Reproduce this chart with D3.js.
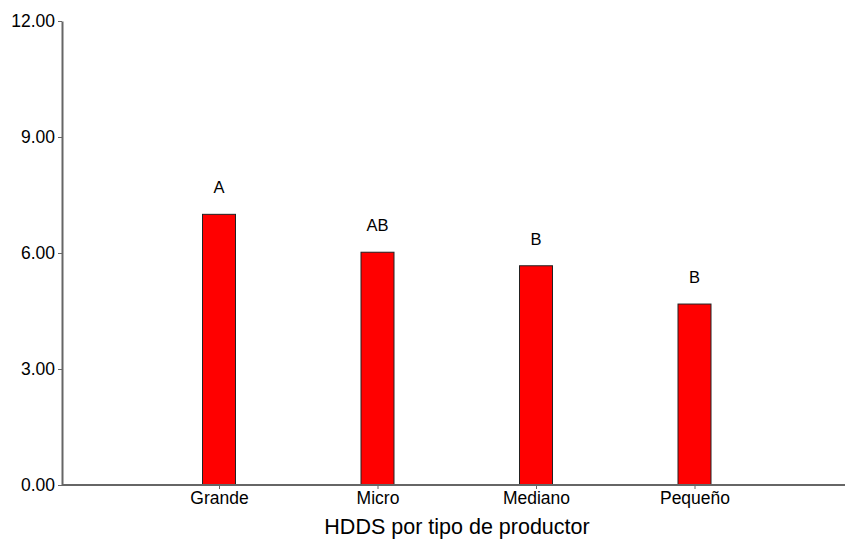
<!DOCTYPE html>
<html><head><meta charset="utf-8">
<script src="https://cdn.jsdelivr.net/npm/d3@7"></script>
<style>body{margin:0;background:#fff}svg{display:block}text{font-family:"Liberation Sans",Arial,sans-serif;fill:#000}</style>
</head><body>
<script>
const categories = ["Grande","Micro","Mediano","Pequeño"];
const values = [7.00, 6.02, 5.67, 4.68];
const letters = ["A","AB","B","B"];
const yTicks = [0,3,6,9,12];
const xTitle = "HDDS por tipo de productor";

const W=846,H=539;
const svg=d3.select("body").append("svg").attr("width",W).attr("height",H);
const y=d3.scaleLinear().domain([0,12]).range([485,21]);
const x=d3.scaleLinear().domain([1,4]).range([219,694.5]);
const x0=62, x1=845;
const barW=33;
const axisColor="#666";
const FF="Liberation Sans, Arial, sans-serif";

// bars
svg.selectAll("rect.bar").data(values).enter().append("rect")
  .attr("x",(d,i)=>x(i+1)-barW/2).attr("width",barW)
  .attr("y",d=>y(d)).attr("height",d=>y(0)-y(d))
  .attr("fill","#ff0000").attr("stroke","#222").attr("stroke-width",1);

// letters
svg.selectAll("text.lab").data(values).enter().append("text")
  .attr("x",(d,i)=>x(i+1)).attr("y",d=>y(d)-21)
  .attr("text-anchor","middle").attr("font-size",16.5).text((d,i)=>letters[i]);

// y axis
const ya=svg.append("g").attr("transform",`translate(${x0},0)`)
  .call(d3.axisLeft(y).tickValues(yTicks).tickSize(4).tickSizeOuter(0).tickFormat(d3.format(".2f")));
ya.select(".domain").attr("stroke",axisColor).attr("stroke-width",2);
ya.selectAll(".tick line").attr("stroke",axisColor);
ya.selectAll(".tick text").attr("font-size",17.5).attr("font-family",FF).attr("x",-7).attr("fill","#000");

// x axis
const xa=svg.append("g").attr("transform",`translate(0,${y(0)})`)
  .call(d3.axisBottom(x).tickValues([1,2,3,4]).tickSize(4).tickFormat(d=>categories[d-1]));
xa.select(".domain").remove();
xa.append("line").attr("x1",x0).attr("x2",x1).attr("y1",0).attr("y2",0).attr("stroke",axisColor).attr("stroke-width",2);
xa.selectAll(".tick line").attr("stroke",axisColor);
xa.selectAll(".tick text").attr("font-size",17.5).attr("font-family",FF).attr("y",7).attr("fill","#000");

svg.append("text").attr("x",457).attr("y",534).attr("text-anchor","middle").attr("font-size",21.5).text(xTitle);
</script>
</body></html>
